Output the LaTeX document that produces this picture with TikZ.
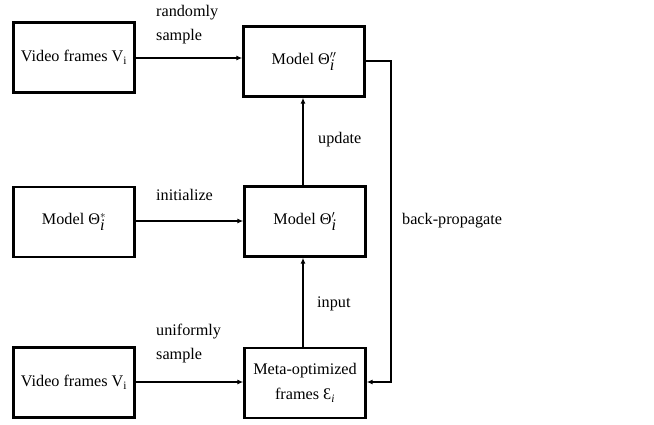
\documentclass[tikz,border=0pt]{standalone}
\usepackage{fontspec}
\setmainfont{Liberation Serif}
\usetikzlibrary{arrows.meta}
\newcommand{\subsup}[2]{\ensuremath{_{\textit{#1}}^{#2}}}
\begin{document}
\begin{tikzpicture}[x=1pt,y=-1pt,
  box/.style={draw,line width=2.4pt,minimum width=121pt,minimum height=70pt,inner sep=0pt,align=center,font=\fontsize{16.2}{25}\selectfont},
  conn/.style={line width=1.2pt,-{Latex[length=6pt,width=5pt]}},
  lbl/.style={font=\fontsize{16.2}{24}\selectfont,align=left,inner sep=0pt}]
\useasboundingbox (0,0) rectangle (654,424);
% left column: sources
\node[box] (v1) at (74,57.5) {Video frames V\textsubscript{i}};
\node[box] (m0) at (74,222) {Model Θ\subsup{i}{*}};
\node[box] (v2) at (74,382.5) {Video frames V\textsubscript{i}};
% centre column: models and meta frames
\node[box] (m2) at (304,61.5) {Model Θ\subsup{i}{\prime\prime}};
\node[box] (m1) at (305,221.5) {Model Θ\subsup{i}{\prime}};
\node[box] (mf) at (305,383) {Meta-optimized\\frames Ɛ\textsubscript{\textit{i}}};
% connectors
\draw[conn] (v1.east |- 0,58) -- (m2.west |- 0,58);
\draw[conn] (m0.east |- 0,221) -- (m1.west |- 0,221);
\draw[conn] (v2.east |- 0,382) -- (mf.west |- 0,382);
\draw[conn] (m1.north -| 303,0) -- (m2.south -| 303,0);
\draw[conn] (mf.north -| 303,0) -- (m1.south -| 303,0);
\coordinate (fbtop) at (391,61);
\coordinate (fbbot) at (391,382);
\draw[conn] (m2.east |- fbtop) -- (fbtop) -- (fbbot) -- (mf.east |- fbbot);
% labels
\node[lbl,anchor=west] (l1) at (156,25) {randomly\\sample};
\node[lbl,anchor=west] (l2) at (156,195) {initialize};
\node[lbl,anchor=west] (l3) at (156,344) {uniformly\\sample};
\node[lbl,anchor=west] (l4) at (318,140) {update};
\node[lbl,anchor=west] (l5) at (317,304) {input};
\node[lbl,anchor=west] (l6) at (402,221) {back-propagate};
\end{tikzpicture}
\end{document}
